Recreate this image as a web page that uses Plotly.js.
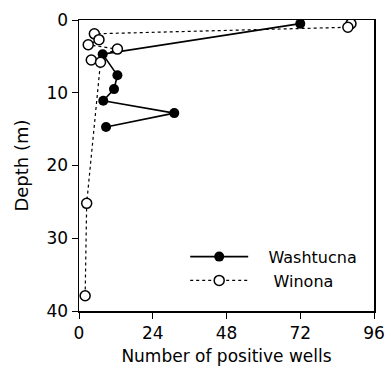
<!DOCTYPE html>
<html><head><meta charset="utf-8">
<script src="https://cdn.plot.ly/plotly-3.0.1.min.js"></script>
<style>html,body{margin:0;padding:0;background:#fff}#chart{width:387px;height:369px}</style>
</head><body><div id="chart"></div>
<script>
var washtucnaWells = [72, 7.7, 12.5, 11.4, 7.9, 31, 8.8];
var washtucnaDepth = [0.5, 4.7, 7.6, 9.5, 11.1, 12.8, 14.7];
var winonaWells = [88.5, 87.5, 5, 6.5, 3, 12.5, 4, 7, 2.5, 2];
var winonaDepth = [0.5, 1.0, 1.9, 2.7, 3.4, 4.0, 5.5, 5.8, 25.2, 37.9];
var seriesNames = ['Washtucna', 'Winona'];
var xTicks = [0, 24, 48, 72, 96];
var yTicks = [0, 10, 20, 30, 40];

var fam = '"DejaVu Sans", sans-serif';
var tickFont = {family: fam, size: 17, color: '#000'};
var titleFont = {family: fam, size: 17, color: '#000'};
var legFont = {family: fam, size: 16, color: '#000'};
var traces = [
  {x: washtucnaWells, y: washtucnaDepth, name: '\u00a0\u00a0\u00a0' + seriesNames[0], mode: 'lines+markers',
   line: {color: '#000', width: 1.6}, marker: {symbol: 'circle', size: 10, color: '#000'}},
  {x: winonaWells, y: winonaDepth, name: '\u00a0\u00a0\u00a0\u00a0' + seriesNames[1], mode: 'lines+markers',
   line: {color: '#000', width: 1.2, dash: 'dot'},
   marker: {symbol: 'circle', size: 10, color: '#fff', line: {color: '#000', width: 1.5}}}
];
var layout = {
  width: 387, height: 369,
  margin: {l: 79, r: 13, t: 20, b: 58},
  paper_bgcolor: '#fff', plot_bgcolor: '#fff',
  font: tickFont,
  showlegend: true,
  legend: {x: 0.36, y: 0.245, xanchor: 'left', yanchor: 'top', bgcolor: 'rgba(0,0,0,0)', font: legFont,
    itemwidth: 58, tracegroupgap: 0},
  xaxis: {range: [0, 96], tickvals: xTicks, ticktext: xTicks.map(String), ticks: 'outside', ticklen: 6,
    tickfont: tickFont,
    tickcolor: '#000', linecolor: '#000', linewidth: 1.5, mirror: true, showgrid: false, zeroline: false,
    title: {text: 'Number of positive wells', font: titleFont, standoff: 8}},
  yaxis: {range: [40, 0], tickvals: yTicks, ticktext: yTicks.map(String), ticks: 'outside', ticklen: 6,
    tickfont: tickFont,
    tickcolor: '#000', linecolor: '#000', linewidth: 1.5, mirror: true, showgrid: false, zeroline: false,
    title: {text: 'Depth (m)', font: {family: fam, size: 18, color: '#000'}, standoff: 13}}
};
Plotly.newPlot('chart', traces, layout, {displayModeBar: false, staticPlot: true});
</script></body></html>
